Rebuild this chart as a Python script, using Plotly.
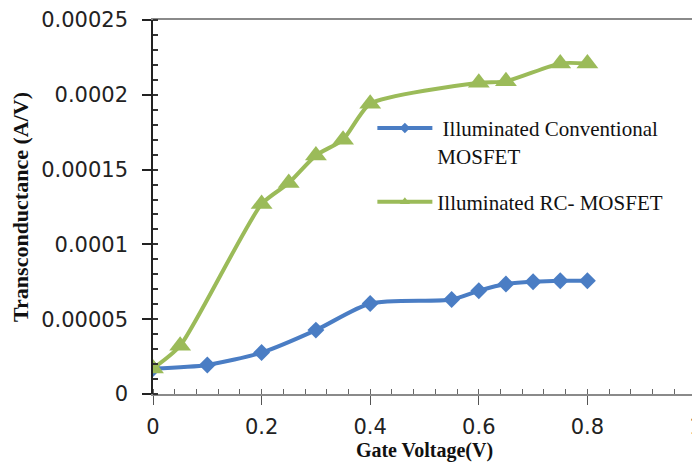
import plotly.graph_objects as go

# Data
conv_x = [0, 0.1, 0.2, 0.3, 0.4, 0.55, 0.6, 0.65, 0.7, 0.75, 0.8]
conv_y = [0.0000170, 0.0000194, 0.0000277, 0.0000427, 0.0000605, 0.0000632,
          0.0000690, 0.0000735, 0.0000750, 0.0000757, 0.0000757]
rc_x = [0, 0.05, 0.2, 0.25, 0.3, 0.35, 0.4, 0.6, 0.65, 0.75, 0.8]
rc_y = [0.0000170, 0.0000322, 0.0001270, 0.0001410, 0.0001595, 0.0001700,
        0.0001940, 0.0002080, 0.0002090, 0.0002210, 0.0002210]

series_names = [" Illuminated Conventional<br>MOSFET", "Illuminated RC- MOSFET"]
x_ticks = [0, 0.2, 0.4, 0.6, 0.8, 1]
x_tick_labels = ["0", "0.2", "0.4", "0.6", "0.8", "1"]
y_ticks = [0, 0.00005, 0.0001, 0.00015, 0.0002, 0.00025]
y_tick_labels = ["0", "0.00005", "0.0001", "0.00015", "0.0002", "0.00025"]

BLUE = "#4A7DC4"
GREEN = "#9BBB59"

fig = go.Figure()

fig.add_trace(go.Scatter(
    x=conv_x, y=conv_y, mode="lines+markers", showlegend=False,
    line=dict(color=BLUE, width=4, shape="spline", smoothing=0.7),
    marker=dict(symbol="diamond", size=13, color=BLUE),
))
fig.add_trace(go.Scatter(
    x=rc_x, y=rc_y, mode="lines+markers", showlegend=False,
    line=dict(color=GREEN, width=4, shape="spline", smoothing=0.6),
    marker=dict(symbol="triangle-up", size=19, color=GREEN),
))

# legend entries (smaller symbols as in the reference legend)
fig.add_trace(go.Scatter(
    x=[None], y=[None], mode="lines+markers", name=series_names[0],
    legendgroup="a",
    line=dict(color=BLUE, width=4), marker=dict(symbol="diamond", size=8, color=BLUE),
))
fig.add_trace(go.Scatter(
    x=[None], y=[None], mode="lines+markers", name=series_names[1],
    legendgroup="b",
    line=dict(color=GREEN, width=4), marker=dict(symbol="triangle-up", size=9, color=GREEN),
))

tick_font = dict(family="DejaVu Sans", size=21, color="#222222")

# the page body has an 8px margin, so margins are offset to place the plot area
fig.update_layout(
    width=700, height=465,
    margin=dict(l=145, r=12, t=12, b=79),
    paper_bgcolor="white", plot_bgcolor="white",
    legend=dict(
        x=0.404, y=0.765, xanchor="left", yanchor="top",
        font=dict(family="Liberation Serif", size=21, color="#111111"),
        itemwidth=55, valign="top", tracegroupgap=16,
        bgcolor="rgba(255,255,255,0)",
    ),
    xaxis=dict(
        range=[0, 1], tickvals=x_ticks, ticktext=x_tick_labels,
        tickfont=tick_font, showgrid=False, zeroline=False, automargin=False,
        ticklabeloverflow="allow",
        showline=True, linecolor="#8a8a8a", linewidth=1.5, mirror=True,
        ticks="outside", ticklen=9, tickcolor="#555555", tickwidth=1,
        ticklabelstandoff=4,
        minor=dict(dtick=0.04, ticks="inside", ticklen=5, tickcolor="#666666", tickwidth=1),
        title=dict(text="<b>Gate Voltage(V)</b>", standoff=0,
                   font=dict(family="Liberation Serif", size=20, color="#111111")),
    ),
    yaxis=dict(
        range=[0, 0.00025], tickvals=y_ticks, ticktext=y_tick_labels,
        tickfont=tick_font, showgrid=False, zeroline=False, automargin=False,
        ticklabeloverflow="allow",
        showline=True, linecolor="#222222", linewidth=1.5, mirror=True,
        ticks="outside", ticklen=9, tickcolor="#222222", tickwidth=1.5,
        ticklabelstandoff=10,
        minor=dict(dtick=0.00001, ticks="inside", ticklen=5, tickcolor="#333333", tickwidth=1.5),
        title=dict(text="<b>Transconductance (A/V)</b>", font=dict(family="Liberation Serif", size=22, color="#111111")),
    ),
)

fig.write_html("out.html")
